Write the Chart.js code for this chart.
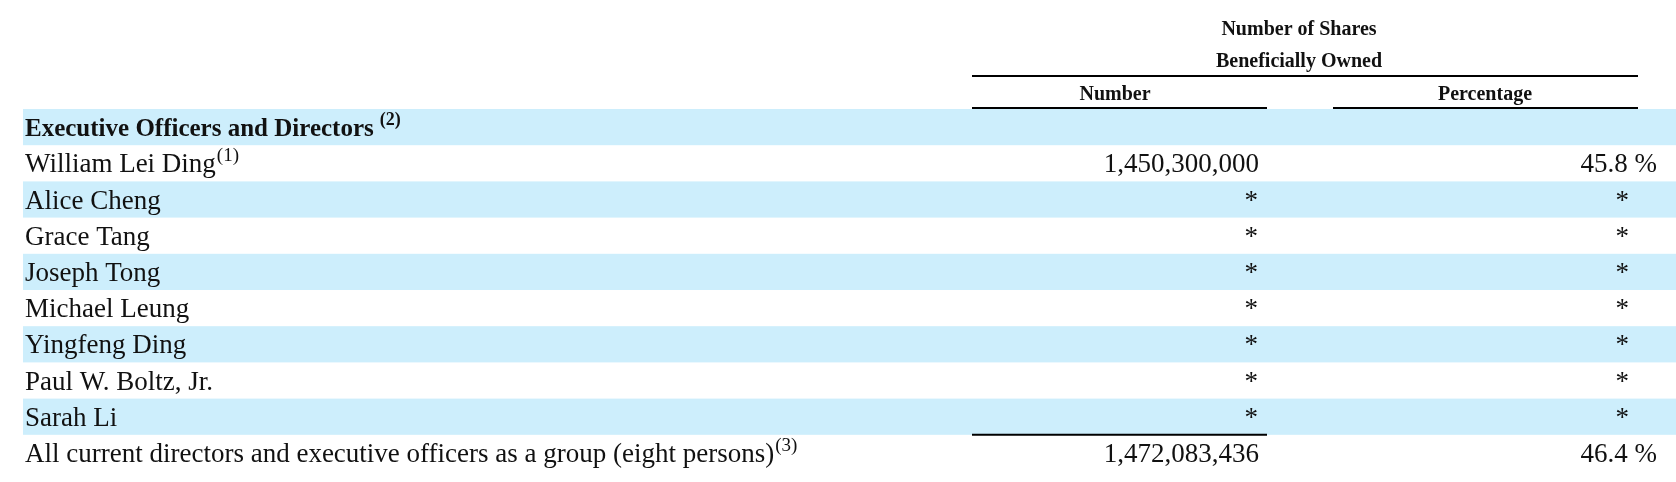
<!DOCTYPE html>
<html>
<head>
<meta charset="utf-8">
<script src="https://cdn.jsdelivr.net/npm/chart.js@4"></script>
<style>
  body { margin: 0; background: #fff; }
</style>
</head>
<body>
<canvas id="tbl" width="1676" height="482"></canvas>
<script>
// ownership table rows
const rowLabels = ['Executive Officers and Directors', 'William Lei Ding', 'Alice Cheng', 'Grace Tang', 'Joseph Tong',
  'Michael Leung', 'Yingfeng Ding', 'Paul W. Boltz, Jr.', 'Sarah Li',
  'All current directors and executive officers as a group (eight persons)'];
const rowNotes = ['(2)', '(1)', '', '', '', '', '', '', '', '(3)'];
const shareNumbers = ['', '1,450,300,000', '*', '*', '*', '*', '*', '*', '*', '1,472,083,436'];
const sharePercents = ['', '45.8 %', '*', '*', '*', '*', '*', '*', '*', '46.4 %'];
const shareValues = [0, 1450300000, 0, 0, 0, 0, 0, 0, 0, 1472083436];

const BLUE = '#cdeefc';
const SERIF = '"Liberation Serif", "Times New Roman", serif';

const tablePlugin = {
  id: 'tablePlugin',
  beforeDatasetsDraw(chart) {
    const c = chart.ctx, y = chart.scales.y;
    const h = y.height / rowLabels.length;
    c.save();
    c.fillStyle = BLUE;
    rowLabels.forEach((l, i) => {
      if (i % 2 === 0 && i < 9) {
        c.fillRect(23, y.getPixelForValue(i) - h / 2, 1676 - 23, h);
      }
    });
    c.restore();
  },
  afterDraw(chart) {
    const c = chart.ctx, y = chart.scales.y;
    const h = y.height / rowLabels.length;
    c.save();
    c.fillStyle = '#111';
    // header
    c.font = 'bold 20px ' + SERIF;
    c.textAlign = 'center';
    c.textBaseline = 'middle';
    c.fillText('Number of Shares', 1299, 30);
    c.fillText('Beneficially Owned', 1299, 62);
    c.fillText('Number', 1115, 95);
    c.fillText('Percentage', 1485, 95);
    c.strokeStyle = '#000';
    c.lineWidth = 2;
    c.beginPath();
    c.moveTo(972, 76); c.lineTo(1638, 76);
    c.moveTo(972, 108); c.lineTo(1267, 108);
    c.moveTo(1333, 108); c.lineTo(1638, 108);
    const lastTop = y.getPixelForValue(9) - h / 2;
    c.moveTo(972, lastTop); c.lineTo(1267, lastTop);
    c.stroke();

    rowLabels.forEach((label, i) => {
      const py = y.getPixelForValue(i) + 2;
      c.textAlign = 'left';
      c.font = (i === 0 ? 'bold 25px ' : '27px ') + SERIF;
      c.fillText(label, 25, py);
      if (rowNotes[i]) {
        const w = c.measureText(label).width;
        c.font = (i === 0 ? 'bold 18px ' : '19px ') + SERIF;
        c.fillText(rowNotes[i], 25 + w + (i === 0 ? 6 : 1), py - 9);
      }
      c.font = '27px ' + SERIF;
      c.textAlign = 'right';
      c.fillText(shareNumbers[i], shareNumbers[i] === '*' ? 1258 : 1259, py);
      c.fillText(sharePercents[i], sharePercents[i] === '*' ? 1629 : 1657, py);
    });
    c.restore();
  }
};

new Chart(document.getElementById('tbl'), {
  type: 'bar',
  data: {
    labels: rowLabels,
    datasets: [{ data: shareValues, backgroundColor: 'rgba(0,0,0,0)' }],
  },
  options: {
    indexAxis: 'y',
    responsive: false,
    animation: false,
    devicePixelRatio: 1,
    layout: { padding: { top: 109, bottom: 11, left: 0, right: 0 } },
    plugins: { legend: { display: false }, tooltip: { enabled: false } },
    scales: {
      x: { display: false },
      y: { display: false },
    },
  },
  plugins: [tablePlugin],
});
</script>
</body>
</html>
